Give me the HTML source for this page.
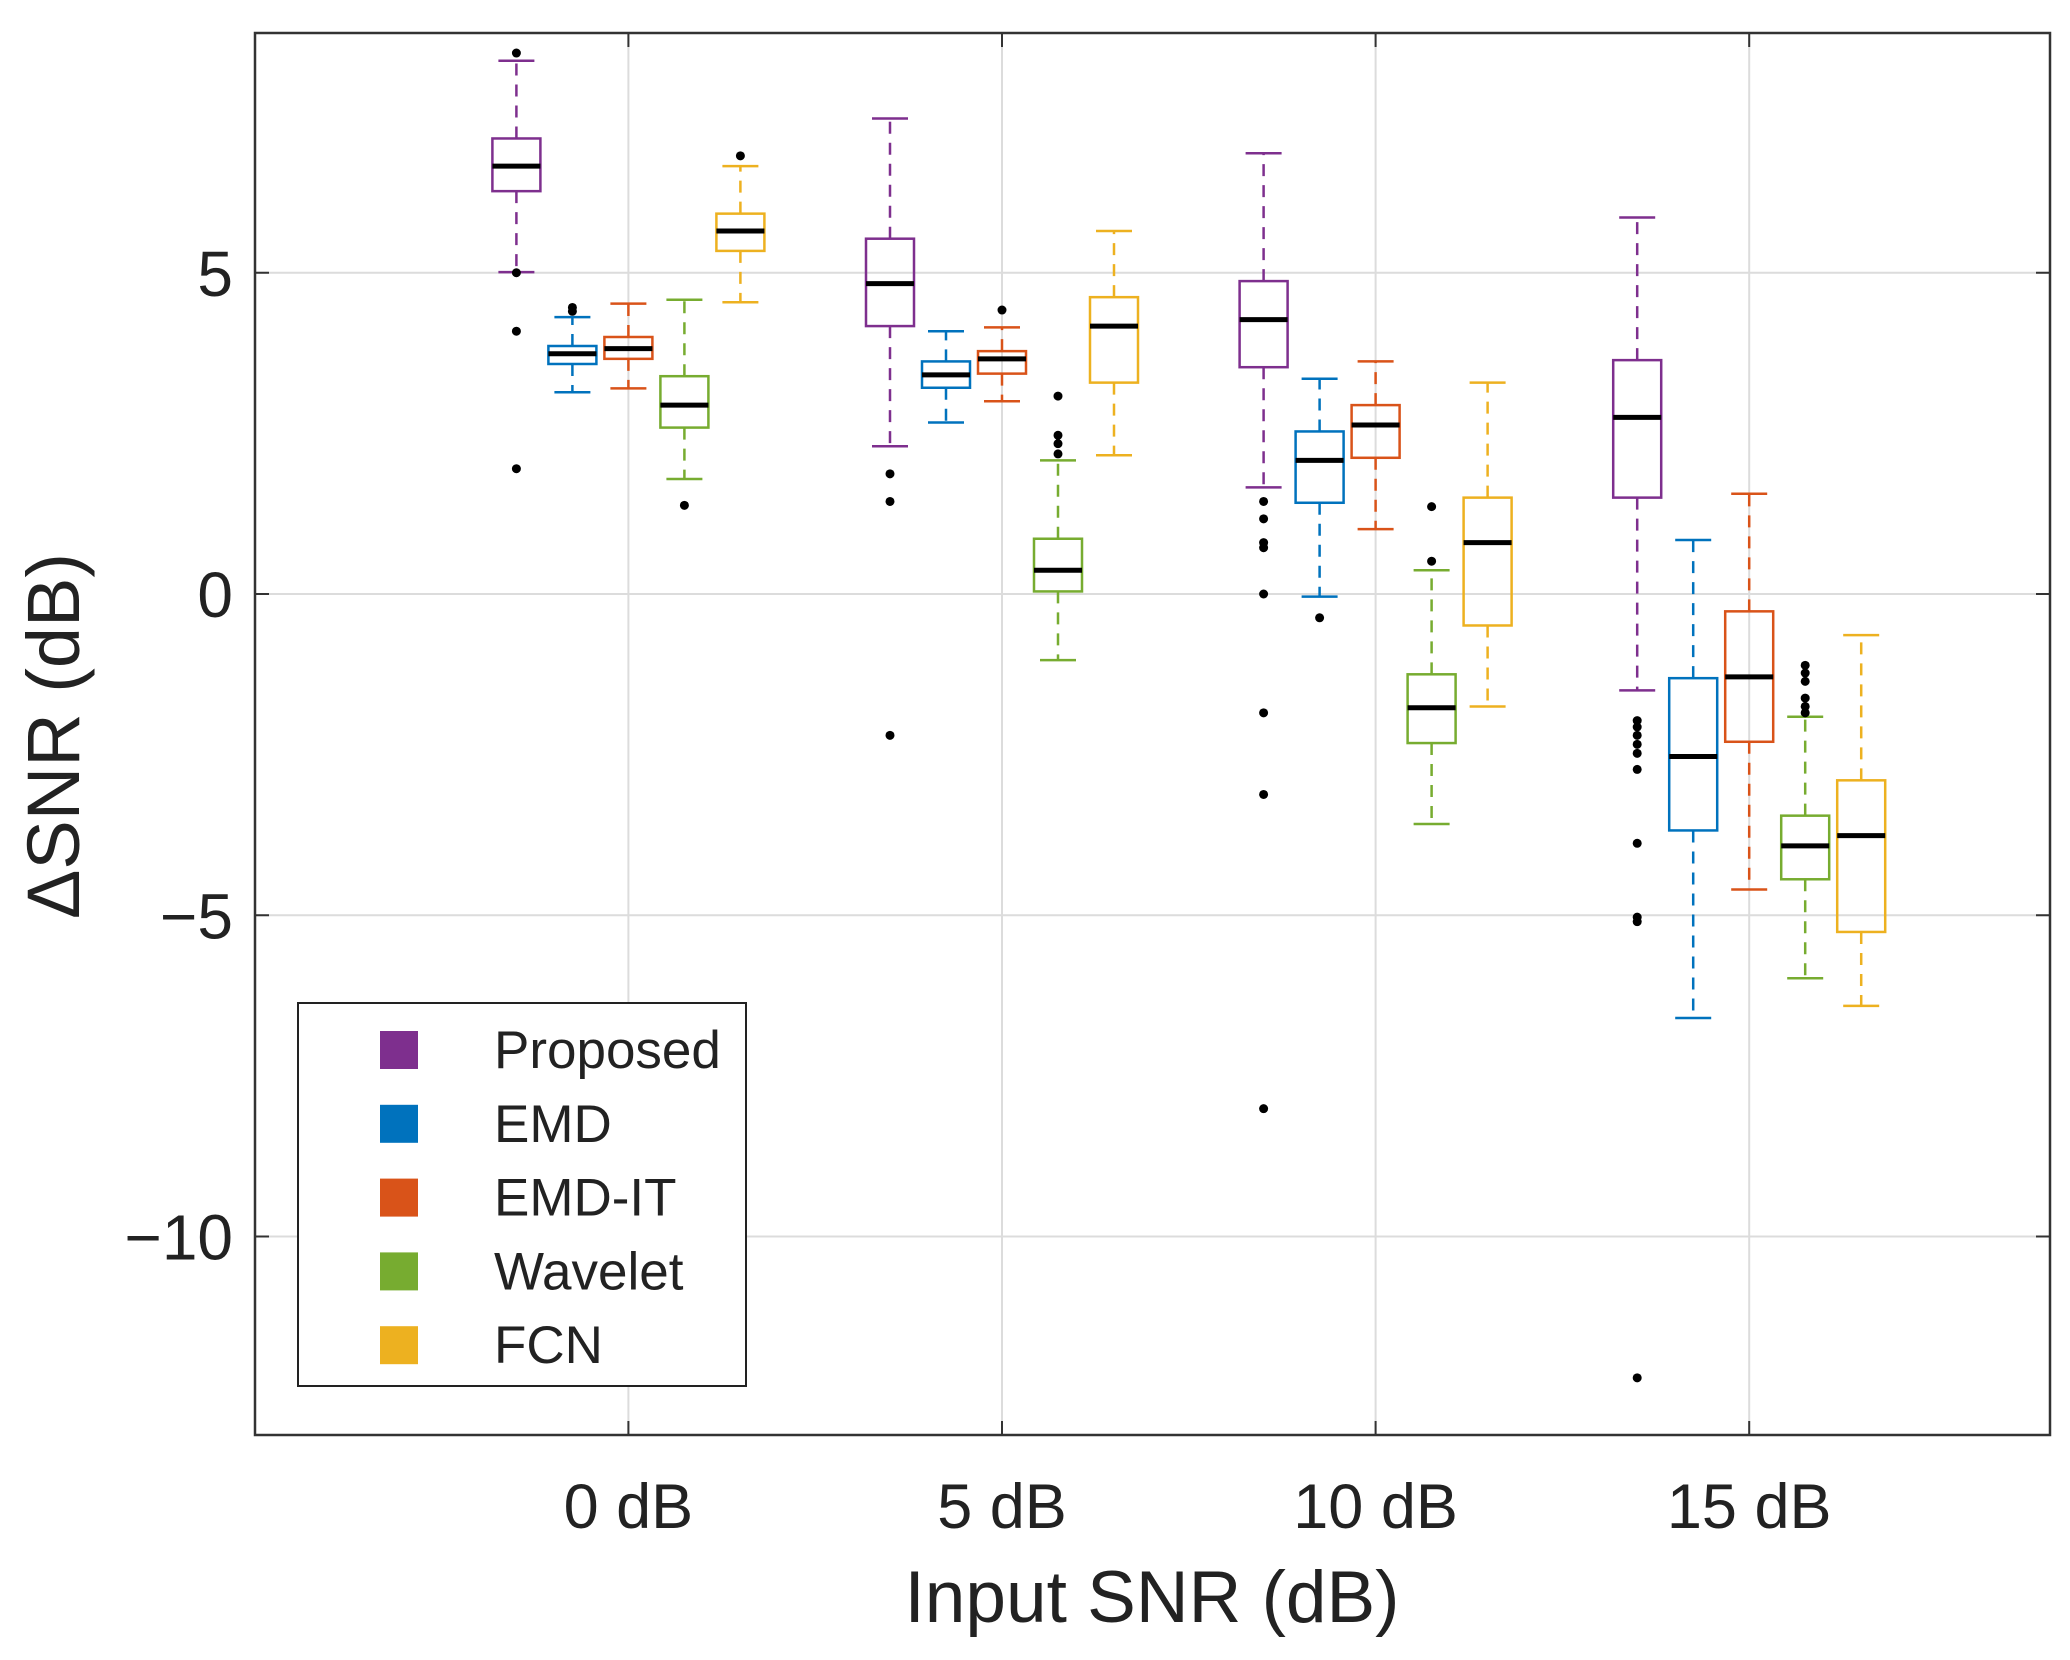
<!DOCTYPE html>
<html><head><meta charset="utf-8"><style>
html,body{margin:0;padding:0;background:#fff;}
svg{display:block;font-family:"Liberation Sans",Arial,sans-serif;}
</style></head><body>
<svg id="chart" width="2070" height="1660" viewBox="0 0 2070 1660" xmlns="http://www.w3.org/2000/svg">
<g id="grid"></g>
<g id="boxes"></g>
<g id="axes"></g>
<g id="legend"></g>
</svg>
<script>
const categories = ["0 dB","5 dB","10 dB","15 dB"];
const methods = ["Proposed","EMD","EMD-IT","Wavelet","FCN"];
const colors = ["#7E2F8E","#0072BD","#D95319","#77AC30","#EDB120"];
const yTicks = [5,0,-5,-10];
const yTickLabels = ["5","0","\u22125","\u221210"];
// [lowerWhisker, q1, median, q3, upperWhisker] per category per method
const proposedStats = [[5.01,6.27,6.66,7.09,8.3],[2.3,4.17,4.83,5.53,7.4],[1.66,3.53,4.27,4.87,6.86],[-1.5,1.5,2.75,3.64,5.86]];
const emdStats = [[3.14,3.58,3.74,3.86,4.31],[2.67,3.21,3.41,3.62,4.09],[-0.04,1.42,2.08,2.53,3.35],[-6.6,-3.68,-2.53,-1.31,0.84]];
const emdItStats = [[3.2,3.66,3.82,4.0,4.52],[3.0,3.43,3.66,3.78,4.15],[1.01,2.12,2.63,2.94,3.62],[-4.6,-2.3,-1.29,-0.27,1.56]];
const waveletStats = [[1.79,2.59,2.94,3.39,4.58],[-1.03,0.04,0.37,0.86,2.08],[-3.58,-2.32,-1.77,-1.25,0.37],[-5.98,-4.44,-3.92,-3.45,-1.91]];
const fcnStats = [[4.54,5.34,5.65,5.92,6.66],[2.16,3.29,4.17,4.62,5.65],[-1.75,-0.49,0.8,1.5,3.29],[-6.41,-5.26,-3.76,-2.9,-0.64]];
const proposedOutliers = [[8.42,5.0,4.09,1.95],[1.87,1.44,-2.2],[1.44,1.17,0.8,0.72,0,-1.85,-3.12,-8.01],[-1.97,-2.07,-2.2,-2.34,-2.48,-2.73,-3.88,-5.03,-5.1,-12.2]];
const emdOutliers = [[4.46,4.4],[],[-0.37],[]];
const emdItOutliers = [[],[4.42],[],[]];
const waveletOutliers = [[1.38],[3.08,2.47,2.34,2.18],[1.36,0.51],[-1.11,-1.23,-1.36,-1.62,-1.75,-1.85]];
const fcnOutliers = [[6.82],[],[],[]];

const allStats=[proposedStats,emdStats,emdItStats,waveletStats,fcnStats];
const allOut=[proposedOutliers,emdOutliers,emdItOutliers,waveletOutliers,fcnOutliers];
const NS="http://www.w3.org/2000/svg";
const L=255,R=2050,T=33,B=1435;
const yZero=594, yUnit=64.25;
const y=v=>yZero-v*yUnit;
const gx=i=>628.4+i*373.6;
const offs=[-112,-56,0,56,112];
function mk(tag,attrs,parent){const e=document.createElementNS(NS,tag);for(const k in attrs)e.setAttribute(k,attrs[k]);parent.appendChild(e);return e;}
const grid=document.getElementById('grid'),boxes=document.getElementById('boxes'),axes=document.getElementById('axes'),legend=document.getElementById('legend');
mk('rect',{x:L,y:T,width:R-L,height:B-T,fill:'#fff'},grid);
yTicks.forEach((t,i)=>{
  const gl=mk('line',{x1:L,x2:R,y1:y(t),y2:y(t),stroke:'#dcdcdc','stroke-width':2},grid);
  
  
  mk('line',{x1:L,x2:L+14,y1:y(t),y2:y(t),stroke:'#333','stroke-width':2},axes);
  mk('line',{x1:R-14,x2:R,y1:y(t),y2:y(t),stroke:'#333','stroke-width':2},axes);
  const tl=mk('text',{x:233,y:y(t)+23,'text-anchor':'end','font-size':64,fill:'#222'},axes);
  tl.textContent=yTickLabels[i];
  
  
});
categories.forEach((c,i)=>{
  const gl=mk('line',{x1:gx(i),x2:gx(i),y1:T,y2:B,stroke:'#dcdcdc','stroke-width':2},grid);
  
  
  mk('line',{x1:gx(i),x2:gx(i),y1:B,y2:B-14,stroke:'#333','stroke-width':2},axes);
  mk('line',{x1:gx(i),x2:gx(i),y1:T,y2:T+14,stroke:'#333','stroke-width':2},axes);
  const tl=mk('text',{x:gx(i),y:1528,'text-anchor':'middle','font-size':63,fill:'#222'},axes);
  tl.textContent=c;
  
  
});
allStats.forEach((ms,m)=>{
  ms.forEach((s,i)=>{
    const cx=gx(i)+offs[m], col=colors[m];
    const g=mk('g',{},boxes);
    
    
    const dash={stroke:col,'stroke-width':2.5,'stroke-dasharray':'12 9'};
    mk('line',Object.assign({x1:cx,x2:cx,y1:y(s[3]),y2:y(s[4])},dash),g);
    mk('line',Object.assign({x1:cx,x2:cx,y1:y(s[1]),y2:y(s[0])},dash),g);
    mk('line',{x1:cx-18,x2:cx+18,y1:y(s[4]),y2:y(s[4]),stroke:col,'stroke-width':2.5},g);
    mk('line',{x1:cx-18,x2:cx+18,y1:y(s[0]),y2:y(s[0]),stroke:col,'stroke-width':2.5},g);
    mk('rect',{x:cx-24,y:y(s[3]),width:48,height:y(s[1])-y(s[3]),fill:'none',stroke:col,'stroke-width':2.5},g);
    mk('line',{x1:cx-24,x2:cx+24,y1:y(s[2]),y2:y(s[2]),stroke:'#000','stroke-width':5},g);
    allOut[m][i].forEach(v=>{
      const d=mk('circle',{cx:cx,cy:y(v),r:4.5,fill:'#000'},g);
      
      
    });
  });
});
mk('rect',{x:L,y:T,width:R-L,height:B-T,fill:'none',stroke:'#333','stroke-width':2.5},axes);
const xt=mk('text',{x:1152,y:1622,'text-anchor':'middle','font-size':73,fill:'#222'},axes);
xt.textContent='Input SNR (dB)';


const yt=mk('text',{x:0,y:0,'text-anchor':'middle','font-size':74,fill:'#222',transform:'translate(79,736) rotate(-90)'},axes);
yt.textContent='\u0394SNR (dB)';


mk('rect',{x:298,y:1003,width:448,height:383,fill:'#fff',stroke:'#222','stroke-width':2},legend);
methods.forEach((name,m)=>{
  const cy=1050+m*73.8;
  const g=mk('g',{},legend);
  
  
  mk('rect',{x:380,y:cy-19,width:38,height:38,fill:colors[m]},g);
  const t=mk('text',{x:494,y:cy+18,'font-size':53,fill:'#222'},g);
  t.textContent=name;
});
</script>
</body></html>
